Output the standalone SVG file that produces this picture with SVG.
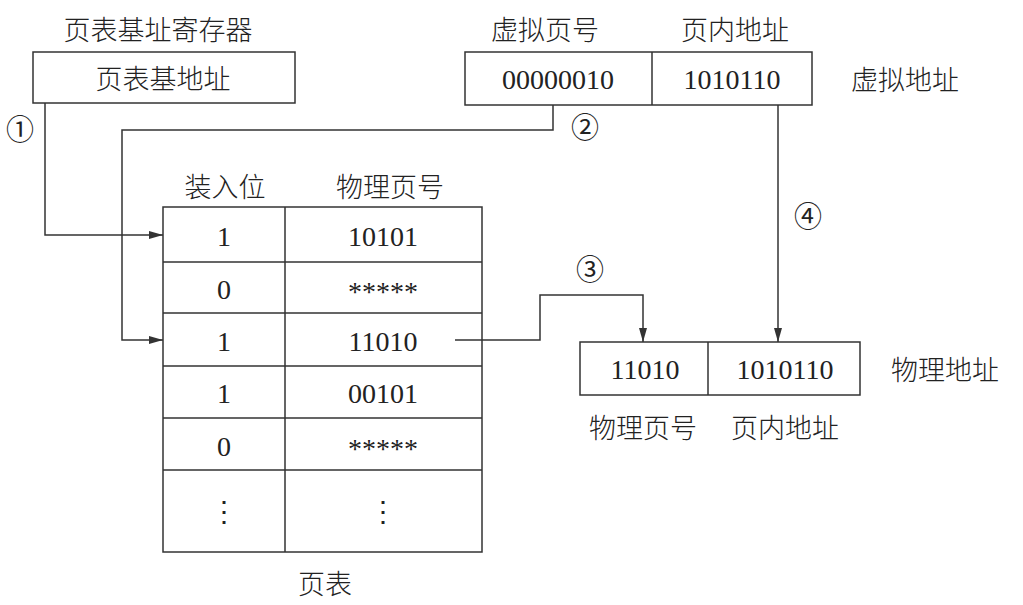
<svg xmlns="http://www.w3.org/2000/svg" width="1023" height="605" viewBox="0 0 1023 605">
<style>
text{font-family:"Liberation Serif","Noto Sans CJK SC",serif;font-size:28px;fill:#222;text-anchor:middle;dominant-baseline:central}
.c{font-family:"Noto Sans CJK SC",sans-serif;font-size:27px;font-weight:300}
.box{fill:#fff;stroke:#333;stroke-width:1.5}
.ln{fill:none;stroke:#333;stroke-width:1.5}
</style>
<defs><marker id="a" markerWidth="14" markerHeight="8" refX="14" refY="4" orient="auto" markerUnits="userSpaceOnUse"><path d="M0,0L14,4L0,8z" fill="#333"/></marker></defs>
<rect width="1023" height="605" fill="#fff"/>
<g id="base"><text class="c" x="158" y="28">页表基址寄存器</text><rect class="box" x="33" y="52" width="262" height="51"/><text class="c" x="163" y="77">页表基地址</text></g>
<g id="vaddr"><text class="c" x="545" y="28">虚拟页号</text><text class="c" x="735" y="28">页内地址</text><rect class="box" x="465" y="52" width="347" height="53"/><line class="ln" x1="652" y1="52" x2="652" y2="105"/><text x="558" y="79">00000010</text><text x="732" y="79">1010110</text><text class="c" x="905" y="78">虚拟地址</text></g>
<g id="table"><text class="c" x="225" y="185">装入位</text><text class="c" x="390" y="185">物理页号</text>
<rect class="box" x="163" y="207" width="319" height="345"/>
<path class="ln" d="M285,207V552M163,262H482M163,313H482M163,366H482M163,418H482M163,470H482"/>
<text x="224" y="236">1</text><text x="383" y="236">10101</text>
<text x="224" y="289">0</text><text x="383" y="291">*****</text>
<text x="224" y="341">1</text><text x="383" y="341">11010</text>
<text x="224" y="393">1</text><text x="383" y="393">00101</text>
<text x="224" y="446">0</text><text x="383" y="448">*****</text>
<text x="224" y="511">⋮</text><text x="383" y="511">⋮</text>
<text class="c" x="325" y="582">页表</text></g>
<g id="paddr"><rect class="box" x="580" y="342" width="280" height="53"/><line class="ln" x1="708" y1="342" x2="708" y2="395"/><text x="645" y="369">11010</text><text x="785" y="369">1010110</text><text class="c" x="945" y="368">物理地址</text><text class="c" x="643" y="426">物理页号</text><text class="c" x="785" y="426">页内地址</text></g>
<g id="connectors">
<path class="ln" d="M45,103V235H163" marker-end="url(#a)"/>
<path class="ln" d="M553,105V130H122V340H163" marker-end="url(#a)"/>
<path class="ln" d="M455,340H540V295H643V342" marker-end="url(#a)"/>
<path class="ln" d="M778,105V342" marker-end="url(#a)"/>
<text x="20" y="130">①</text><text x="585" y="128">②</text><text x="590" y="270">③</text><text x="808" y="217">④</text>
</g>
</svg>
